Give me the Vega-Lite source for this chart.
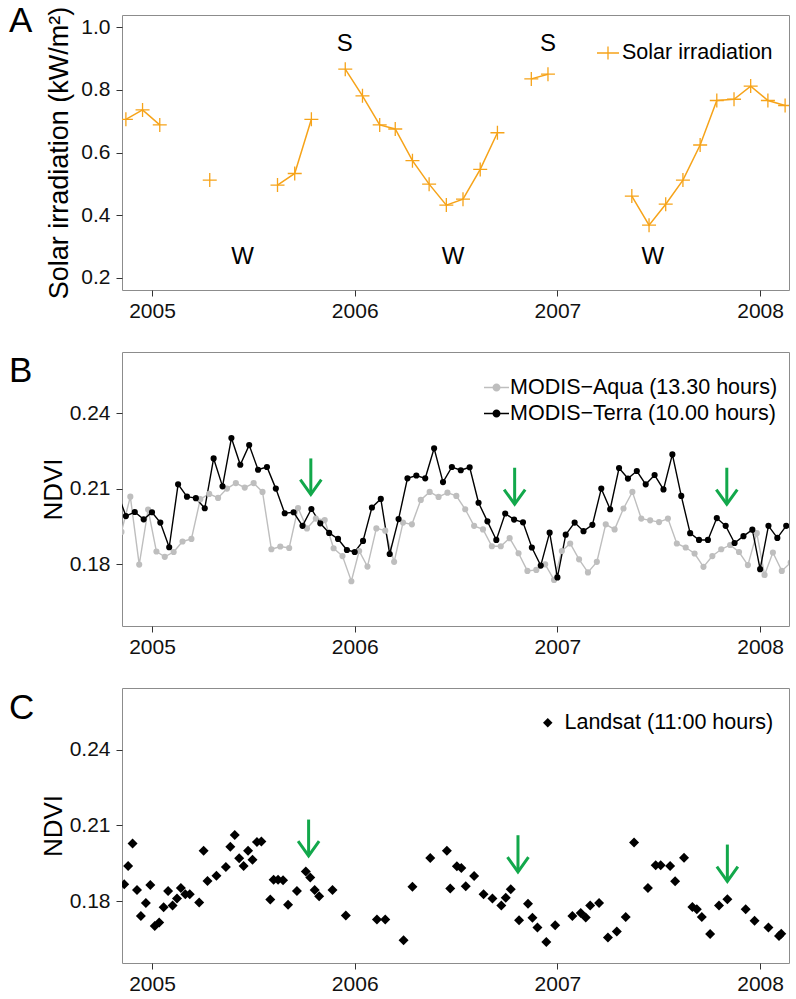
{
  "$schema": "https://vega.github.io/schema/vega-lite/v6.json",
  "padding": {"left": 8, "top": 3, "right": 8, "bottom": 0},
  "spacing": 29,
  "config": {
    "font": "Liberation Sans",
    "view": {"stroke": "#8c8c8c", "strokeWidth": 1},
    "axis": {"domain": false, "grid": false, "labelFont": "Liberation Sans", "labelFontSize": 21, "labelColor": "#111111", "tickColor": "#333333", "tickSize": 6, "labelPadding": 4, "titleFont": "Liberation Sans", "titleFontSize": 26, "titleFontWeight": "normal", "titleColor": "#000000"},
    "axisY": {"labelPadding": 6},
    "legend": {"labelFont": "Liberation Sans", "labelFontSize": 21.5, "labelColor": "#000000", "padding": 0, "labelLimit": 400},
    "title": {"font": "Liberation Sans", "fontSize": 35, "fontWeight": "normal", "color": "#000000", "anchor": "start", "frame": "group", "offset": 0, "baseline": "alphabetic"},
    "text": {"font": "Liberation Sans"}
  },
  "resolve": {"scale": {"x": "independent", "y": "independent", "color": "independent"}, "legend": {"color": "independent"}},
  "datasets": {
    "solar": [
      {"date": "2004-11-15", "v": 0.706}, {"date": "2004-12-15", "v": 0.736}, {"date": "2005-01-15", "v": 0.688},
      {"date": "2005-02-15", "v": null}, {"date": "2005-03-15", "v": null}, {"date": "2005-04-15", "v": 0.512},
      {"date": "2005-05-15", "v": null}, {"date": "2005-06-15", "v": null}, {"date": "2005-07-15", "v": null},
      {"date": "2005-08-15", "v": 0.496}, {"date": "2005-09-15", "v": 0.533}, {"date": "2005-10-15", "v": 0.706},
      {"date": "2005-11-15", "v": null}, {"date": "2005-12-15", "v": 0.866}, {"date": "2006-01-15", "v": 0.781},
      {"date": "2006-02-15", "v": 0.688}, {"date": "2006-03-15", "v": 0.675}, {"date": "2006-04-15", "v": 0.574},
      {"date": "2006-05-15", "v": 0.499}, {"date": "2006-06-15", "v": 0.432}, {"date": "2006-07-15", "v": 0.451},
      {"date": "2006-08-15", "v": 0.546}, {"date": "2006-09-15", "v": 0.663}, {"date": "2006-10-15", "v": null},
      {"date": "2006-11-15", "v": 0.835}, {"date": "2006-12-15", "v": 0.85}, {"date": "2007-01-15", "v": null},
      {"date": "2007-02-15", "v": null}, {"date": "2007-03-15", "v": null}, {"date": "2007-04-15", "v": null},
      {"date": "2007-05-15", "v": 0.461}, {"date": "2007-06-15", "v": 0.368}, {"date": "2007-07-15", "v": 0.435},
      {"date": "2007-08-15", "v": 0.512}, {"date": "2007-09-15", "v": 0.624}, {"date": "2007-10-15", "v": 0.766},
      {"date": "2007-11-15", "v": 0.77}, {"date": "2007-12-15", "v": 0.812}, {"date": "2008-01-15", "v": 0.766},
      {"date": "2008-02-15", "v": 0.75}
    ],
    "seasons": [
      {"date": "2005-12-14", "v": 0.947, "t": "S"}, {"date": "2006-12-15", "v": 0.947, "t": "S"},
      {"date": "2005-06-13", "v": 0.265, "t": "W"}, {"date": "2006-06-27", "v": 0.265, "t": "W"}, {"date": "2007-06-22", "v": 0.265, "t": "W"}
    ],
    "modis": [
      {"date": "2004-11-07", "ndvi": 0.1929, "s": "Aqua"}, {"date": "2004-11-23", "ndvi": 0.2069, "s": "Aqua"},
      {"date": "2004-12-09", "ndvi": 0.1799, "s": "Aqua"}, {"date": "2004-12-25", "ndvi": 0.2018, "s": "Aqua"},
      {"date": "2005-01-09", "ndvi": 0.1851, "s": "Aqua"}, {"date": "2005-01-24", "ndvi": 0.183, "s": "Aqua"},
      {"date": "2005-02-09", "ndvi": 0.1849, "s": "Aqua"}, {"date": "2005-02-25", "ndvi": 0.1891, "s": "Aqua"},
      {"date": "2005-03-13", "ndvi": 0.1901, "s": "Aqua"}, {"date": "2005-03-29", "ndvi": 0.2059, "s": "Aqua"},
      {"date": "2005-04-14", "ndvi": 0.208, "s": "Aqua"}, {"date": "2005-04-30", "ndvi": 0.2064, "s": "Aqua"},
      {"date": "2005-05-16", "ndvi": 0.2101, "s": "Aqua"}, {"date": "2005-06-01", "ndvi": 0.2123, "s": "Aqua"},
      {"date": "2005-06-17", "ndvi": 0.2105, "s": "Aqua"}, {"date": "2005-07-03", "ndvi": 0.2123, "s": "Aqua"},
      {"date": "2005-07-19", "ndvi": 0.2088, "s": "Aqua"}, {"date": "2005-08-04", "ndvi": 0.186, "s": "Aqua"},
      {"date": "2005-08-20", "ndvi": 0.1871, "s": "Aqua"}, {"date": "2005-09-05", "ndvi": 0.1865, "s": "Aqua"},
      {"date": "2005-09-21", "ndvi": 0.2024, "s": "Aqua"}, {"date": "2005-10-07", "ndvi": 0.1943, "s": "Aqua"},
      {"date": "2005-10-23", "ndvi": 0.1982, "s": "Aqua"}, {"date": "2005-11-08", "ndvi": 0.1976, "s": "Aqua"},
      {"date": "2005-11-24", "ndvi": 0.1864, "s": "Aqua"}, {"date": "2005-12-10", "ndvi": 0.1833, "s": "Aqua"},
      {"date": "2005-12-26", "ndvi": 0.1733, "s": "Aqua"}, {"date": "2006-01-09", "ndvi": 0.1853, "s": "Aqua"},
      {"date": "2006-01-24", "ndvi": 0.1791, "s": "Aqua"}, {"date": "2006-02-09", "ndvi": 0.1943, "s": "Aqua"},
      {"date": "2006-02-25", "ndvi": 0.1934, "s": "Aqua"}, {"date": "2006-03-13", "ndvi": 0.181, "s": "Aqua"},
      {"date": "2006-03-29", "ndvi": 0.1966, "s": "Aqua"}, {"date": "2006-04-14", "ndvi": 0.1959, "s": "Aqua"},
      {"date": "2006-04-30", "ndvi": 0.2056, "s": "Aqua"}, {"date": "2006-05-16", "ndvi": 0.2088, "s": "Aqua"},
      {"date": "2006-06-01", "ndvi": 0.2068, "s": "Aqua"}, {"date": "2006-06-17", "ndvi": 0.2085, "s": "Aqua"},
      {"date": "2006-07-03", "ndvi": 0.2072, "s": "Aqua"}, {"date": "2006-07-19", "ndvi": 0.2019, "s": "Aqua"},
      {"date": "2006-08-04", "ndvi": 0.1953, "s": "Aqua"}, {"date": "2006-08-20", "ndvi": 0.1939, "s": "Aqua"},
      {"date": "2006-09-05", "ndvi": 0.1872, "s": "Aqua"}, {"date": "2006-09-21", "ndvi": 0.1872, "s": "Aqua"},
      {"date": "2006-10-07", "ndvi": 0.1904, "s": "Aqua"}, {"date": "2006-10-23", "ndvi": 0.1844, "s": "Aqua"},
      {"date": "2006-11-08", "ndvi": 0.1774, "s": "Aqua"}, {"date": "2006-11-24", "ndvi": 0.1778, "s": "Aqua"},
      {"date": "2006-12-10", "ndvi": 0.18, "s": "Aqua"}, {"date": "2006-12-26", "ndvi": 0.1738, "s": "Aqua"},
      {"date": "2007-01-09", "ndvi": 0.1853, "s": "Aqua"}, {"date": "2007-01-24", "ndvi": 0.1883, "s": "Aqua"},
      {"date": "2007-02-09", "ndvi": 0.182, "s": "Aqua"}, {"date": "2007-02-25", "ndvi": 0.1768, "s": "Aqua"},
      {"date": "2007-03-13", "ndvi": 0.181, "s": "Aqua"}, {"date": "2007-03-29", "ndvi": 0.1959, "s": "Aqua"},
      {"date": "2007-04-14", "ndvi": 0.1939, "s": "Aqua"}, {"date": "2007-04-30", "ndvi": 0.2022, "s": "Aqua"},
      {"date": "2007-05-16", "ndvi": 0.2088, "s": "Aqua"}, {"date": "2007-06-01", "ndvi": 0.1982, "s": "Aqua"},
      {"date": "2007-06-17", "ndvi": 0.1975, "s": "Aqua"}, {"date": "2007-07-03", "ndvi": 0.1968, "s": "Aqua"},
      {"date": "2007-07-19", "ndvi": 0.1982, "s": "Aqua"}, {"date": "2007-08-04", "ndvi": 0.1883, "s": "Aqua"},
      {"date": "2007-08-20", "ndvi": 0.1867, "s": "Aqua"}, {"date": "2007-09-05", "ndvi": 0.1843, "s": "Aqua"},
      {"date": "2007-09-21", "ndvi": 0.179, "s": "Aqua"}, {"date": "2007-10-07", "ndvi": 0.1833, "s": "Aqua"},
      {"date": "2007-10-23", "ndvi": 0.186, "s": "Aqua"}, {"date": "2007-11-08", "ndvi": 0.1877, "s": "Aqua"},
      {"date": "2007-11-24", "ndvi": 0.1849, "s": "Aqua"}, {"date": "2007-12-10", "ndvi": 0.1797, "s": "Aqua"},
      {"date": "2007-12-26", "ndvi": 0.1924, "s": "Aqua"}, {"date": "2008-01-09", "ndvi": 0.1758, "s": "Aqua"},
      {"date": "2008-01-24", "ndvi": 0.1847, "s": "Aqua"}, {"date": "2008-02-09", "ndvi": 0.1774, "s": "Aqua"},
      {"date": "2008-02-25", "ndvi": 0.1807, "s": "Aqua"},
      {"date": "2004-10-30", "ndvi": 0.209, "s": "Terra"}, {"date": "2004-11-15", "ndvi": 0.1992, "s": "Terra"},
      {"date": "2004-12-01", "ndvi": 0.2008, "s": "Terra"}, {"date": "2004-12-17", "ndvi": 0.1979, "s": "Terra"},
      {"date": "2005-01-01", "ndvi": 0.2007, "s": "Terra"}, {"date": "2005-01-16", "ndvi": 0.1966, "s": "Terra"},
      {"date": "2005-02-01", "ndvi": 0.1868, "s": "Terra"}, {"date": "2005-02-17", "ndvi": 0.2118, "s": "Terra"},
      {"date": "2005-03-05", "ndvi": 0.2069, "s": "Terra"}, {"date": "2005-03-21", "ndvi": 0.2063, "s": "Terra"},
      {"date": "2005-04-06", "ndvi": 0.2023, "s": "Terra"}, {"date": "2005-04-22", "ndvi": 0.2221, "s": "Terra"},
      {"date": "2005-05-08", "ndvi": 0.211, "s": "Terra"}, {"date": "2005-05-24", "ndvi": 0.2302, "s": "Terra"},
      {"date": "2005-06-09", "ndvi": 0.2196, "s": "Terra"}, {"date": "2005-06-25", "ndvi": 0.2274, "s": "Terra"},
      {"date": "2005-07-11", "ndvi": 0.2176, "s": "Terra"}, {"date": "2005-07-27", "ndvi": 0.2187, "s": "Terra"},
      {"date": "2005-08-12", "ndvi": 0.2101, "s": "Terra"}, {"date": "2005-08-28", "ndvi": 0.2003, "s": "Terra"},
      {"date": "2005-09-13", "ndvi": 0.2007, "s": "Terra"}, {"date": "2005-09-29", "ndvi": 0.1953, "s": "Terra"},
      {"date": "2005-10-15", "ndvi": 0.202, "s": "Terra"}, {"date": "2005-10-31", "ndvi": 0.1963, "s": "Terra"},
      {"date": "2005-11-16", "ndvi": 0.1925, "s": "Terra"}, {"date": "2005-12-02", "ndvi": 0.1901, "s": "Terra"},
      {"date": "2005-12-18", "ndvi": 0.1857, "s": "Terra"}, {"date": "2006-01-01", "ndvi": 0.1849, "s": "Terra"},
      {"date": "2006-01-16", "ndvi": 0.1893, "s": "Terra"}, {"date": "2006-02-01", "ndvi": 0.2026, "s": "Terra"},
      {"date": "2006-02-17", "ndvi": 0.206, "s": "Terra"}, {"date": "2006-03-05", "ndvi": 0.1841, "s": "Terra"},
      {"date": "2006-03-21", "ndvi": 0.198, "s": "Terra"}, {"date": "2006-04-06", "ndvi": 0.2142, "s": "Terra"},
      {"date": "2006-04-22", "ndvi": 0.2153, "s": "Terra"}, {"date": "2006-05-08", "ndvi": 0.2142, "s": "Terra"},
      {"date": "2006-05-24", "ndvi": 0.2261, "s": "Terra"}, {"date": "2006-06-09", "ndvi": 0.2127, "s": "Terra"},
      {"date": "2006-06-25", "ndvi": 0.2187, "s": "Terra"}, {"date": "2006-07-11", "ndvi": 0.2174, "s": "Terra"},
      {"date": "2006-07-27", "ndvi": 0.2186, "s": "Terra"}, {"date": "2006-08-12", "ndvi": 0.2045, "s": "Terra"},
      {"date": "2006-08-28", "ndvi": 0.1971, "s": "Terra"}, {"date": "2006-09-13", "ndvi": 0.1897, "s": "Terra"},
      {"date": "2006-09-29", "ndvi": 0.2002, "s": "Terra"}, {"date": "2006-10-15", "ndvi": 0.1978, "s": "Terra"},
      {"date": "2006-10-31", "ndvi": 0.1967, "s": "Terra"}, {"date": "2006-11-16", "ndvi": 0.1867, "s": "Terra"},
      {"date": "2006-12-02", "ndvi": 0.1795, "s": "Terra"}, {"date": "2006-12-18", "ndvi": 0.1926, "s": "Terra"},
      {"date": "2007-01-01", "ndvi": 0.1748, "s": "Terra"}, {"date": "2007-01-16", "ndvi": 0.1918, "s": "Terra"},
      {"date": "2007-02-01", "ndvi": 0.1966, "s": "Terra"}, {"date": "2007-02-17", "ndvi": 0.1932, "s": "Terra"},
      {"date": "2007-03-05", "ndvi": 0.1957, "s": "Terra"}, {"date": "2007-03-21", "ndvi": 0.2101, "s": "Terra"},
      {"date": "2007-04-06", "ndvi": 0.2019, "s": "Terra"}, {"date": "2007-04-22", "ndvi": 0.2183, "s": "Terra"},
      {"date": "2007-05-08", "ndvi": 0.2141, "s": "Terra"}, {"date": "2007-05-24", "ndvi": 0.2171, "s": "Terra"},
      {"date": "2007-06-09", "ndvi": 0.2118, "s": "Terra"}, {"date": "2007-06-25", "ndvi": 0.2155, "s": "Terra"},
      {"date": "2007-07-11", "ndvi": 0.2098, "s": "Terra"}, {"date": "2007-07-27", "ndvi": 0.2237, "s": "Terra"},
      {"date": "2007-08-12", "ndvi": 0.2072, "s": "Terra"}, {"date": "2007-08-28", "ndvi": 0.1924, "s": "Terra"},
      {"date": "2007-09-13", "ndvi": 0.1897, "s": "Terra"}, {"date": "2007-09-29", "ndvi": 0.1897, "s": "Terra"},
      {"date": "2007-10-15", "ndvi": 0.1984, "s": "Terra"}, {"date": "2007-10-31", "ndvi": 0.1953, "s": "Terra"},
      {"date": "2007-11-16", "ndvi": 0.1885, "s": "Terra"}, {"date": "2007-12-02", "ndvi": 0.1912, "s": "Terra"},
      {"date": "2007-12-18", "ndvi": 0.1938, "s": "Terra"}, {"date": "2008-01-01", "ndvi": 0.1781, "s": "Terra"},
      {"date": "2008-01-16", "ndvi": 0.1953, "s": "Terra"}, {"date": "2008-02-01", "ndvi": 0.1905, "s": "Terra"},
      {"date": "2008-02-17", "ndvi": 0.1953, "s": "Terra"}
    ],
    "landsat": [
      {"date": "2004-11-12", "ndvi": 0.1867}, {"date": "2004-11-19", "ndvi": 0.1939}, {"date": "2004-11-27", "ndvi": 0.2028},
      {"date": "2004-12-05", "ndvi": 0.1844}, {"date": "2004-12-12", "ndvi": 0.1741}, {"date": "2004-12-21", "ndvi": 0.1793},
      {"date": "2004-12-29", "ndvi": 0.1864}, {"date": "2005-01-06", "ndvi": 0.1702}, {"date": "2005-01-14", "ndvi": 0.1715},
      {"date": "2005-01-22", "ndvi": 0.1776}, {"date": "2005-01-30", "ndvi": 0.184}, {"date": "2005-02-07", "ndvi": 0.1783},
      {"date": "2005-02-15", "ndvi": 0.181}, {"date": "2005-02-22", "ndvi": 0.1852}, {"date": "2005-03-02", "ndvi": 0.1827},
      {"date": "2005-03-10", "ndvi": 0.1827}, {"date": "2005-03-27", "ndvi": 0.1795}, {"date": "2005-04-04", "ndvi": 0.2},
      {"date": "2005-04-11", "ndvi": 0.188}, {"date": "2005-04-27", "ndvi": 0.1901}, {"date": "2005-05-14", "ndvi": 0.1935},
      {"date": "2005-05-22", "ndvi": 0.2015}, {"date": "2005-05-30", "ndvi": 0.2062}, {"date": "2005-06-07", "ndvi": 0.197},
      {"date": "2005-06-15", "ndvi": 0.1939}, {"date": "2005-06-23", "ndvi": 0.2}, {"date": "2005-07-01", "ndvi": 0.1964},
      {"date": "2005-07-09", "ndvi": 0.2034}, {"date": "2005-07-17", "ndvi": 0.2036}, {"date": "2005-08-02", "ndvi": 0.1806},
      {"date": "2005-08-08", "ndvi": 0.1885}, {"date": "2005-08-16", "ndvi": 0.1885}, {"date": "2005-08-25", "ndvi": 0.1883},
      {"date": "2005-09-03", "ndvi": 0.1786}, {"date": "2005-09-19", "ndvi": 0.184}, {"date": "2005-10-05", "ndvi": 0.1917},
      {"date": "2005-10-13", "ndvi": 0.1894}, {"date": "2005-10-21", "ndvi": 0.1844}, {"date": "2005-10-29", "ndvi": 0.1819},
      {"date": "2005-11-22", "ndvi": 0.1844}, {"date": "2005-12-16", "ndvi": 0.1743}, {"date": "2006-02-10", "ndvi": 0.1727},
      {"date": "2006-02-25", "ndvi": 0.1727}, {"date": "2006-03-30", "ndvi": 0.1645}, {"date": "2006-04-15", "ndvi": 0.1857},
      {"date": "2006-05-17", "ndvi": 0.1971}, {"date": "2006-06-16", "ndvi": 0.2}, {"date": "2006-06-22", "ndvi": 0.185},
      {"date": "2006-07-04", "ndvi": 0.1938}, {"date": "2006-07-12", "ndvi": 0.1931}, {"date": "2006-07-20", "ndvi": 0.1859},
      {"date": "2006-08-04", "ndvi": 0.19}, {"date": "2006-08-21", "ndvi": 0.1827}, {"date": "2006-09-06", "ndvi": 0.181},
      {"date": "2006-09-22", "ndvi": 0.1783}, {"date": "2006-09-30", "ndvi": 0.1813}, {"date": "2006-10-09", "ndvi": 0.1847},
      {"date": "2006-10-24", "ndvi": 0.1724}, {"date": "2006-11-09", "ndvi": 0.179}, {"date": "2006-11-17", "ndvi": 0.1734},
      {"date": "2006-11-26", "ndvi": 0.1696}, {"date": "2006-12-12", "ndvi": 0.1638}, {"date": "2006-12-28", "ndvi": 0.1704},
      {"date": "2007-01-28", "ndvi": 0.1741}, {"date": "2007-02-12", "ndvi": 0.1753}, {"date": "2007-02-21", "ndvi": 0.1735},
      {"date": "2007-03-01", "ndvi": 0.1783}, {"date": "2007-03-17", "ndvi": 0.1793}, {"date": "2007-04-02", "ndvi": 0.1656},
      {"date": "2007-04-18", "ndvi": 0.168}, {"date": "2007-05-04", "ndvi": 0.1737}, {"date": "2007-05-19", "ndvi": 0.2032},
      {"date": "2007-06-13", "ndvi": 0.1852}, {"date": "2007-06-27", "ndvi": 0.1942}, {"date": "2007-07-06", "ndvi": 0.1942},
      {"date": "2007-07-23", "ndvi": 0.1939}, {"date": "2007-08-01", "ndvi": 0.1879}, {"date": "2007-08-17", "ndvi": 0.1972},
      {"date": "2007-09-01", "ndvi": 0.1777}, {"date": "2007-09-09", "ndvi": 0.1768}, {"date": "2007-09-18", "ndvi": 0.1737},
      {"date": "2007-10-03", "ndvi": 0.167}, {"date": "2007-10-19", "ndvi": 0.1783}, {"date": "2007-11-03", "ndvi": 0.1807},
      {"date": "2007-12-06", "ndvi": 0.1768}, {"date": "2007-12-22", "ndvi": 0.1722}, {"date": "2008-01-16", "ndvi": 0.1696},
      {"date": "2008-02-04", "ndvi": 0.1662}, {"date": "2008-02-08", "ndvi": 0.1671}
    ],
    "arrowsB": [
      {"date": "2005-10-14", "top": 0.2221, "tip": 0.2078},
      {"date": "2006-10-16", "top": 0.2184, "tip": 0.2039},
      {"date": "2007-11-02", "top": 0.2184, "tip": 0.2039}
    ],
    "arrowsC": [
      {"date": "2005-10-10", "top": 0.2123, "tip": 0.1979},
      {"date": "2006-10-22", "top": 0.2061, "tip": 0.1916},
      {"date": "2007-11-03", "top": 0.2024, "tip": 0.1878}
    ]
  },
  "vconcat": [
    {
      "title": {"text": "A", "dx": -113, "dy": 37},
      "width": 667,
      "height": 275,
      "encoding": {
        "x": {"field": "date", "type": "temporal", "scale": {"type": "utc", "domain": [{"year": 2004, "month": 11, "date": 8, "utc": true}, {"year": 2008, "month": 2, "date": 22, "utc": true}]}, "axis": {"title": null, "format": "%Y", "values": [{"year": 2005, "utc": true}, {"year": 2006, "utc": true}, {"year": 2007, "utc": true}, {"year": 2008, "utc": true}]}}
      },
      "layer": [
        {
          "data": {"name": "solar"},
          "mark": {"type": "line", "color": "#F6A319", "strokeWidth": 1.5, "invalid": "break-paths-show-domains", "clip": true},
          "encoding": {"y": {"field": "v", "type": "quantitative", "scale": {"domain": [0.161, 1.039], "nice": false, "zero": false}, "axis": {"values": [0.2, 0.4, 0.6, 0.8, 1.0], "format": ".1f", "title": "Solar irradiation (kW/m²)", "titleFontSize": 27, "titleX": -55, "titleBaseline": "alphabetic"}}}
        },
        {
          "data": {"name": "solar"},
          "mark": {"type": "point", "shape": "M-1,0L1,0M0,-1L0,1", "filled": false, "size": 196, "strokeWidth": 1.3, "opacity": 1, "invalid": "filter", "clip": true},
          "encoding": {
            "y": {"field": "v", "type": "quantitative"},
            "color": {"datum": "Solar irradiation", "type": "nominal", "scale": {"range": ["#F6A319"]}, "legend": {"title": null, "orient": "none", "legendX": 474, "legendY": 26, "symbolType": "M-1,0L1,0M0,-0.6L0,0.6", "symbolSize": 484, "symbolStrokeWidth": 1.3, "labelOffset": 2}}
          }
        },
        {
          "data": {"name": "seasons"},
          "mark": {"type": "text", "fontSize": 24, "color": "#000000", "align": "center", "baseline": "middle"},
          "encoding": {"y": {"field": "v", "type": "quantitative"}, "text": {"field": "t"}}
        }
      ]
    },
    {
      "title": {"text": "B", "dx": -113, "dy": 41},
      "width": 667,
      "height": 274,
      "encoding": {
        "x": {"field": "date", "type": "temporal", "scale": {"type": "utc", "domain": [{"year": 2004, "month": 11, "date": 8, "utc": true}, {"year": 2008, "month": 2, "date": 22, "utc": true}]}, "axis": {"title": null, "format": "%Y", "values": [{"year": 2005, "utc": true}, {"year": 2006, "utc": true}, {"year": 2007, "utc": true}, {"year": 2008, "utc": true}]}}
      },
      "layer": [
        {
          "data": {"name": "modis"},
          "mark": {"type": "line", "strokeWidth": 1.4, "clip": true},
          "encoding": {
            "y": {"field": "ndvi", "type": "quantitative", "scale": {"domain": [0.1555, 0.2644], "nice": false, "zero": false}, "axis": {"values": [0.18, 0.21, 0.24], "format": ".2f", "title": "NDVI", "titleX": -61, "titleBaseline": "alphabetic"}},
            "color": {"field": "s", "type": "nominal", "scale": {"domain": ["Aqua", "Terra"], "range": ["#BEBEBE", "#000000"]}, "legend": {"title": null, "orient": "none", "legendX": 361, "legendY": 22, "symbolType": "M-1,0L1,0M-0.26,0A0.26,0.26 0 1,0 0.26,0A0.26,0.26 0 1,0 -0.26,0M-0.14,0A0.14,0.14 0 1,0 0.14,0A0.14,0.14 0 1,0 -0.14,0", "symbolSize": 625, "symbolStrokeWidth": 1.5, "labelOffset": 0, "rowPadding": 2, "labelExpr": "datum.label == 'Aqua' ? 'MODIS−Aqua (13.30 hours)' : 'MODIS−Terra (10.00 hours)'"}}
          }
        },
        {
          "data": {"name": "modis"},
          "mark": {"type": "point", "filled": true, "size": 38, "opacity": 1, "clip": true},
          "encoding": {
            "y": {"field": "ndvi", "type": "quantitative"},
            "color": {"field": "s", "type": "nominal"}
          }
        },
        {
          "data": {"name": "arrowsB"},
          "mark": {"type": "rule", "color": "#12A84B", "strokeWidth": 3},
          "encoding": {"y": {"field": "top", "type": "quantitative"}, "y2": {"field": "tip"}}
        },
        {
          "data": {"name": "arrowsB"},
          "mark": {"type": "point", "shape": "M-1,-1.4L0,0L1,-1.4", "filled": false, "size": 441, "strokeWidth": 3, "color": "#12A84B", "opacity": 1},
          "encoding": {"y": {"field": "tip", "type": "quantitative"}}
        }
      ]
    },
    {
      "title": {"text": "C", "dx": -113, "dy": 42},
      "width": 667,
      "height": 275,
      "encoding": {
        "x": {"field": "date", "type": "temporal", "scale": {"type": "utc", "domain": [{"year": 2004, "month": 11, "date": 8, "utc": true}, {"year": 2008, "month": 2, "date": 22, "utc": true}]}, "axis": {"title": null, "format": "%Y", "values": [{"year": 2005, "utc": true}, {"year": 2006, "utc": true}, {"year": 2007, "utc": true}, {"year": 2008, "utc": true}]}}
      },
      "layer": [
        {
          "data": {"name": "landsat"},
          "mark": {"type": "point", "shape": "diamond", "filled": true, "size": 100, "opacity": 1, "clip": true},
          "encoding": {
            "y": {"field": "ndvi", "type": "quantitative", "scale": {"domain": [0.1555, 0.2644], "nice": false, "zero": false}, "axis": {"values": [0.18, 0.21, 0.24], "format": ".2f", "title": "NDVI", "titleX": -61, "titleBaseline": "alphabetic"}},
            "color": {"datum": "Landsat (11:00 hours)", "type": "nominal", "scale": {"range": ["#000000"]}, "legend": {"title": null, "orient": "none", "legendX": 415, "legendY": 24, "symbolType": "diamond", "symbolSize": 90, "labelOffset": 6}}
          }
        },
        {
          "data": {"name": "arrowsC"},
          "mark": {"type": "rule", "color": "#12A84B", "strokeWidth": 3},
          "encoding": {"y": {"field": "top", "type": "quantitative"}, "y2": {"field": "tip"}}
        },
        {
          "data": {"name": "arrowsC"},
          "mark": {"type": "point", "shape": "M-1,-1.4L0,0L1,-1.4", "filled": false, "size": 441, "strokeWidth": 3, "color": "#12A84B", "opacity": 1},
          "encoding": {"y": {"field": "tip", "type": "quantitative"}}
        }
      ]
    }
  ]
}
